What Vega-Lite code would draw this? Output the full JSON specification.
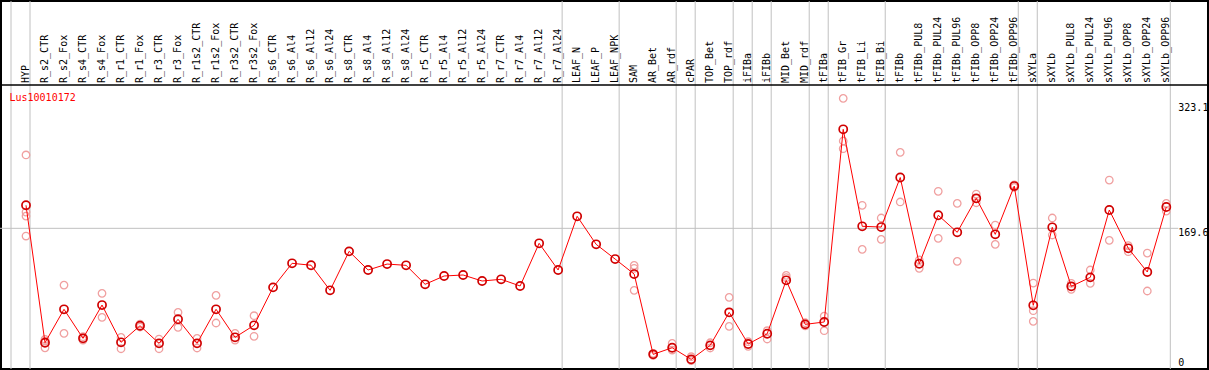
{
  "$schema": "https://vega.github.io/schema/vega-lite/v6.json",
  "width": 1207,
  "height": 368,
  "autosize": "none",
  "padding": {"left": 1, "top": 1, "right": 1, "bottom": 1},
  "background": "white",
  "config": {
    "font": "DejaVu Sans Mono",
    "view": {"stroke": "black", "strokeWidth": 2}
  },
  "datasets": {
    "means": [
      {"s": "HYP", "v": 196.8}, {"s": "R_s2_CTR", "v": 34.5}, {"s": "R_s2_Fox", "v": 74.0}, {"s": "R_s4_CTR", "v": 39.7},
      {"s": "R_s4_Fox", "v": 79.0}, {"s": "R_r1_CTR", "v": 35.0}, {"s": "R_r1_Fox", "v": 54.6}, {"s": "R_r3_CTR", "v": 33.8},
      {"s": "R_r3_Fox", "v": 62.2}, {"s": "R_r1s2_CTR", "v": 33.8}, {"s": "R_r1s2_Fox", "v": 74.0}, {"s": "R_r3s2_CTR", "v": 40.9},
      {"s": "R_r3s2_Fox", "v": 55.1}, {"s": "R_s6_CTR", "v": 99.9}, {"s": "R_s6_Al4", "v": 128.3}, {"s": "R_s6_Al12", "v": 126.0},
      {"s": "R_s6_Al24", "v": 96.4}, {"s": "R_s8_CTR", "v": 142.4}, {"s": "R_s8_Al4", "v": 120.4}, {"s": "R_s8_Al12", "v": 127.4},
      {"s": "R_s8_Al24", "v": 125.9}, {"s": "R_r5_CTR", "v": 103.5}, {"s": "R_r5_Al4", "v": 113.3}, {"s": "R_r5_Al12", "v": 114.5},
      {"s": "R_r5_Al24", "v": 107.4}, {"s": "R_r7_CTR", "v": 109.4}, {"s": "R_r7_Al4", "v": 101.5}, {"s": "R_r7_Al12", "v": 151.9},
      {"s": "R_r7_Al24", "v": 120.4}, {"s": "LEAF_N", "v": 183.8}, {"s": "LEAF_P", "v": 150.7}, {"s": "LEAF_NPK", "v": 133.3},
      {"s": "SAM", "v": 115.6}, {"s": "AR_Bet", "v": 20.8}, {"s": "AR_rdf", "v": 28.6}, {"s": "cPAR", "v": 14.9},
      {"s": "TOP_Bet", "v": 31.4}, {"s": "TOP_rdf", "v": 70.4}, {"s": "iFIBa", "v": 33.0}, {"s": "iFIBb", "v": 45.1},
      {"s": "MID_Bet", "v": 108.2}, {"s": "MID_rdf", "v": 56.2}, {"s": "tFIBa", "v": 59.0}, {"s": "tFIB_Gr", "v": 286.5},
      {"s": "tFIB_Li", "v": 172.0}, {"s": "tFIB_Bi", "v": 171.1}, {"s": "tFIBb", "v": 229.6}, {"s": "tFIBb_PUL8", "v": 127.8},
      {"s": "tFIBb_PUL24", "v": 185.0}, {"s": "tFIBb_PUL96", "v": 164.9}, {"s": "tFIBb_OPP8", "v": 205.0}, {"s": "tFIBb_OPP24", "v": 162.5},
      {"s": "tFIBb_OPP96", "v": 219.5}, {"s": "sXYLa", "v": 78.7}, {"s": "sXYLb", "v": 170.8}, {"s": "sXYLb_PUL8", "v": 101.1},
      {"s": "sXYLb_PUL24", "v": 111.7}, {"s": "sXYLb_PUL96", "v": 191.2}, {"s": "sXYLb_OPP8", "v": 146.0}, {"s": "sXYLb_OPP24", "v": 118.0},
      {"s": "sXYLb_OPP96", "v": 194.8}
    ],
    "reps": [
      {"s": "HYP", "v": 256.2}, {"s": "HYP", "v": 188.8}, {"s": "HYP", "v": 184.1}, {"s": "HYP", "v": 160.5},
      {"s": "R_s2_CTR", "v": 38.5}, {"s": "R_s2_CTR", "v": 36.5}, {"s": "R_s2_CTR", "v": 28.5},
      {"s": "R_s2_Fox", "v": 102.6}, {"s": "R_s2_Fox", "v": 45.6},
      {"s": "R_s4_CTR", "v": 41.6}, {"s": "R_s4_CTR", "v": 37.7},
      {"s": "R_s4_Fox", "v": 92.8}, {"s": "R_s4_Fox", "v": 64.5},
      {"s": "R_r1_CTR", "v": 40.9}, {"s": "R_r1_CTR", "v": 27.4},
      {"s": "R_r1_Fox", "v": 56.6}, {"s": "R_r1_Fox", "v": 53.1},
      {"s": "R_r3_CTR", "v": 38.9}, {"s": "R_r3_CTR", "v": 27.4},
      {"s": "R_r3_Fox", "v": 70.4}, {"s": "R_r3_Fox", "v": 52.7},
      {"s": "R_r1s2_CTR", "v": 39.7}, {"s": "R_r1s2_CTR", "v": 28.3},
      {"s": "R_r1s2_Fox", "v": 90.5}, {"s": "R_r1s2_Fox", "v": 57.8},
      {"s": "R_r3s2_CTR", "v": 45.6}, {"s": "R_r3s2_CTR", "v": 37.7},
      {"s": "R_r3s2_Fox", "v": 66.4}, {"s": "R_r3s2_Fox", "v": 42.1},
      {"s": "SAM", "v": 125.9}, {"s": "SAM", "v": 122.4}, {"s": "SAM", "v": 96.4},
      {"s": "AR_Bet", "v": 22.0}, {"s": "AR_Bet", "v": 19.6},
      {"s": "AR_rdf", "v": 33.8}, {"s": "AR_rdf", "v": 25.9},
      {"s": "cPAR", "v": 18.0}, {"s": "cPAR", "v": 13.5},
      {"s": "TOP_Bet", "v": 34.5}, {"s": "TOP_Bet", "v": 28.3},
      {"s": "TOP_rdf", "v": 88.1}, {"s": "TOP_rdf", "v": 53.9},
      {"s": "iFIBa", "v": 35.7}, {"s": "iFIBa", "v": 30.3},
      {"s": "iFIBb", "v": 48.7}, {"s": "iFIBb", "v": 38.9},
      {"s": "MID_Bet", "v": 114.1}, {"s": "MID_Bet", "v": 111.3},
      {"s": "MID_rdf", "v": 58.1}, {"s": "MID_rdf", "v": 54.3},
      {"s": "tFIBa", "v": 66.0}, {"s": "tFIBa", "v": 48.7},
      {"s": "tFIB_Gr", "v": 323.1}, {"s": "tFIB_Gr", "v": 272.7}, {"s": "tFIB_Gr", "v": 263.6},
      {"s": "tFIB_Li", "v": 196.8}, {"s": "tFIB_Li", "v": 144.8},
      {"s": "tFIB_Bi", "v": 181.8}, {"s": "tFIB_Bi", "v": 156.6},
      {"s": "tFIBb", "v": 259.3}, {"s": "tFIBb", "v": 200.7},
      {"s": "tFIBb_PUL8", "v": 132.2}, {"s": "tFIBb_PUL8", "v": 122.4},
      {"s": "tFIBb_PUL24", "v": 213.3}, {"s": "tFIBb_PUL24", "v": 157.8},
      {"s": "tFIBb_PUL96", "v": 199.1}, {"s": "tFIBb_PUL96", "v": 130.6},
      {"s": "tFIBb_OPP8", "v": 210.1}, {"s": "tFIBb_OPP8", "v": 199.8},
      {"s": "tFIBb_OPP24", "v": 173.5}, {"s": "tFIBb_OPP24", "v": 150.7},
      {"s": "tFIBb_OPP96", "v": 221.0}, {"s": "tFIBb_OPP96", "v": 218.0},
      {"s": "sXYLa", "v": 105.0}, {"s": "sXYLa", "v": 72.3}, {"s": "sXYLa", "v": 59.8},
      {"s": "sXYLb", "v": 181.8}, {"s": "sXYLb", "v": 161.7},
      {"s": "sXYLb_PUL8", "v": 104.7}, {"s": "sXYLb_PUL8", "v": 97.6},
      {"s": "sXYLb_PUL24", "v": 120.4}, {"s": "sXYLb_PUL24", "v": 104.7},
      {"s": "sXYLb_PUL96", "v": 226.6}, {"s": "sXYLb_PUL96", "v": 155.4},
      {"s": "sXYLb_OPP8", "v": 149.1}, {"s": "sXYLb_OPP8", "v": 142.0},
      {"s": "sXYLb_OPP24", "v": 140.4}, {"s": "sXYLb_OPP24", "v": 95.6},
      {"s": "sXYLb_OPP96", "v": 199.1}, {"s": "sXYLb_OPP96", "v": 190.0}
    ],
    "seps": [
      {"s": "HYP"}, {"s": "R_r7_Al24"}, {"s": "LEAF_NPK"}, {"s": "AR_rdf"}, {"s": "cPAR"}, {"s": "TOP_rdf"},
      {"s": "iFIBa"}, {"s": "iFIBb"}, {"s": "MID_rdf"}, {"s": "tFIBa"}, {"s": "tFIB_Bi"}, {"s": "tFIBb_OPP96"},
      {"s": "sXYLa"}, {"s": "sXYLb_OPP96"}
    ]
  },
  "layer": [
    {
      "data": {"name": "seps"},
      "mark": {"type": "rule", "color": "#c0c0c0", "strokeWidth": 1, "xOffset": 4},
      "encoding": {
        "x": {"field": "s", "type": "ordinal", "axis": null,
              "scale": {"type": "point", "padding": 0, "range": [25, 1165.3],
                        "domain": ["HYP","R_s2_CTR","R_s2_Fox","R_s4_CTR","R_s4_Fox","R_r1_CTR","R_r1_Fox","R_r3_CTR","R_r3_Fox","R_r1s2_CTR","R_r1s2_Fox","R_r3s2_CTR","R_r3s2_Fox","R_s6_CTR","R_s6_Al4","R_s6_Al12","R_s6_Al24","R_s8_CTR","R_s8_Al4","R_s8_Al12","R_s8_Al24","R_r5_CTR","R_r5_Al4","R_r5_Al12","R_r5_Al24","R_r7_CTR","R_r7_Al4","R_r7_Al12","R_r7_Al24","LEAF_N","LEAF_P","LEAF_NPK","SAM","AR_Bet","AR_rdf","cPAR","TOP_Bet","TOP_rdf","iFIBa","iFIBb","MID_Bet","MID_rdf","tFIBa","tFIB_Gr","tFIB_Li","tFIB_Bi","tFIBb","tFIBb_PUL8","tFIBb_PUL24","tFIBb_PUL96","tFIBb_OPP8","tFIBb_OPP24","tFIBb_OPP96","sXYLa","sXYLb","sXYLb_PUL8","sXYLb_PUL24","sXYLb_PUL96","sXYLb_OPP8","sXYLb_OPP24","sXYLb_OPP96"]}}
      }
    },
    {
      "data": {"values": [{}]},
      "mark": {"type": "rule", "color": "#c0c0c0", "strokeWidth": 1, "xOffset": -15},
      "encoding": {
        "x": {"datum": "HYP", "type": "ordinal", "axis": null}
      }
    },
    {
      "data": {"values": [{}]},
      "mark": {"type": "rule", "color": "#c0c0c0", "strokeWidth": 1, "xOffset": -26, "x2Offset": 12},
      "encoding": {
        "x": {"datum": "HYP", "type": "ordinal", "axis": null},
        "x2": {"datum": "sXYLb_OPP96"},
        "y": {"datum": 169.6, "type": "quantitative", "axis": null}
      }
    },
    {
      "data": {"values": [{}]},
      "mark": {"type": "rule", "color": "black", "strokeWidth": 1.5},
      "encoding": {
        "y": {"datum": 338.8, "type": "quantitative", "axis": null}
      }
    },
    {
      "data": {"name": "means"},
      "mark": {"type": "text", "angle": 270, "align": "left", "baseline": "middle", "font": "DejaVu Sans Mono", "fontSize": 10, "color": "black"},
      "encoding": {
        "x": {"field": "s", "type": "ordinal", "axis": null},
        "y": {"datum": 341.2, "type": "quantitative", "axis": null},
        "text": {"field": "s"}
      }
    },
    {
      "data": {"values": [{"t": "0"}]},
      "mark": {"type": "text", "align": "left", "baseline": "alphabetic", "dx": 12, "dy": -6, "font": "DejaVu Sans Mono", "fontSize": 10, "color": "black"},
      "encoding": {
        "x": {"datum": "sXYLb_OPP96", "type": "ordinal", "axis": null},
        "y": {"datum": 0, "type": "quantitative", "axis": null},
        "text": {"field": "t"}
      }
    },
    {
      "data": {"values": [{"t": "169.6"}]},
      "mark": {"type": "text", "align": "left", "baseline": "alphabetic", "dx": 12, "dy": 7.7, "font": "DejaVu Sans Mono", "fontSize": 10, "color": "black"},
      "encoding": {
        "x": {"datum": "sXYLb_OPP96", "type": "ordinal", "axis": null},
        "y": {"datum": 169.6, "type": "quantitative", "axis": null},
        "text": {"field": "t"}
      }
    },
    {
      "data": {"values": [{"t": "323.1"}]},
      "mark": {"type": "text", "align": "left", "baseline": "alphabetic", "dx": 12, "dy": 12.7, "font": "DejaVu Sans Mono", "fontSize": 10, "color": "black"},
      "encoding": {
        "x": {"datum": "sXYLb_OPP96", "type": "ordinal", "axis": null},
        "y": {"datum": 323.1, "type": "quantitative", "axis": null},
        "text": {"field": "t"}
      }
    },
    {
      "data": {"name": "reps"},
      "mark": {"type": "point", "shape": "circle", "filled": false, "stroke": "#f0a0a0", "strokeWidth": 1.3, "size": 56, "opacity": 1},
      "encoding": {
        "x": {"field": "s", "type": "ordinal", "axis": null},
        "y": {"field": "v", "type": "quantitative", "axis": null}
      }
    },
    {
      "data": {"name": "means"},
      "mark": {"type": "line", "color": "#ff0000", "strokeWidth": 1},
      "encoding": {
        "x": {"field": "s", "type": "ordinal", "axis": null},
        "y": {"field": "v", "type": "quantitative", "axis": null,
              "scale": {"type": "linear", "domain": [3.5, 438.0], "nice": false, "zero": false}}
      }
    },
    {
      "data": {"name": "means"},
      "mark": {"type": "point", "shape": "circle", "filled": false, "stroke": "#d00000", "strokeWidth": 1.7, "size": 66, "opacity": 1},
      "encoding": {
        "x": {"field": "s", "type": "ordinal", "axis": null},
        "y": {"field": "v", "type": "quantitative", "axis": null}
      }
    },
    {
      "data": {"values": [{"label": "Lus10010172"}]},
      "mark": {"type": "text", "color": "#ff0000", "font": "DejaVu Sans Mono", "fontSize": 10, "align": "left", "baseline": "alphabetic", "dx": -16.5},
      "encoding": {
        "x": {"datum": "HYP", "type": "ordinal", "axis": null},
        "y": {"datum": 320.3, "type": "quantitative", "axis": null},
        "text": {"field": "label"}
      }
    }
  ]
}
